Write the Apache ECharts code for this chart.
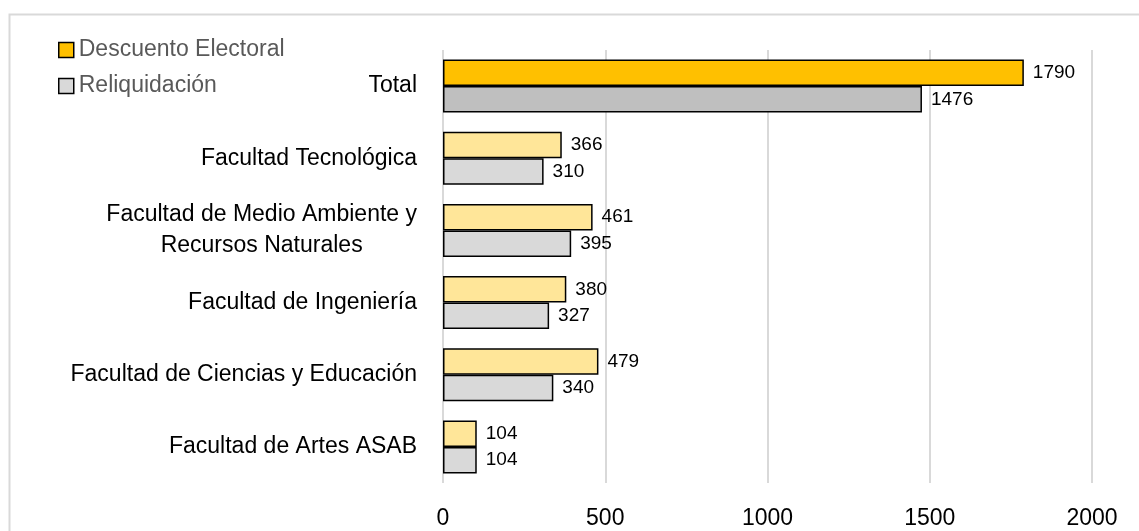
<!DOCTYPE html>
<html>
<head>
<meta charset="utf-8">
<script src="https://cdn.jsdelivr.net/npm/echarts@6/dist/echarts.min.js"></script>
<style>
  html, body { margin: 0; padding: 0; background: #fff; }
  #chart { width: 1139px; height: 531px; }
</style>
</head>
<body>
<div id="chart"></div>
<script>
// Faculties, top to bottom
const categories = [
  'Total',
  'Facultad Tecnológica',
  'Facultad de Medio Ambiente y\nRecursos Naturales',
  'Facultad de Ingeniería',
  'Facultad de Ciencias y Educación',
  'Facultad de Artes ASAB'
];
const seriesNames = ['Descuento Electoral', 'Reliquidación'];
const descuentoElectoral = [1790, 366, 461, 380, 479, 104];
const reliquidacion = [1476, 310, 395, 327, 340, 104];
const xTicks = [0, 500, 1000, 1500, 2000];

const FONT = "'Liberation Sans', Arial, sans-serif";

// The Total row uses the stronger shade of each colour
function buildData(values, totalColor, facultyColor) {
  return values.map((v, i) => ({
    value: v,
    itemStyle: { color: i === 0 ? totalColor : facultyColor }
  }));
}

const chart = echarts.init(document.getElementById('chart'), null, { renderer: 'canvas' });

const barStyle = {
  type: 'bar',
  barWidth: 26.5,
  barGap: '0%',
  label: {
    show: true,
    position: 'right',
    distance: 9,
    fontFamily: FONT,
    fontSize: 19,
    color: '#000'
  },
  itemStyle: { borderColor: '#000', borderWidth: 1.5 },
  emphasis: { disabled: true }
};

chart.setOption({
  animation: false,
  backgroundColor: '#fff',
  graphic: [{
    type: 'rect',
    left: 7, top: 12,
    shape: { x: 0, y: 0, width: 1300, height: 700 },
    style: { fill: 'none', stroke: '#d9d9d9', lineWidth: 2 },
    silent: true,
    z: -10
  }],
  legend: {
    orient: 'vertical',
    left: 58,
    top: 38,
    padding: 0,
    icon: 'rect',
    itemWidth: 15,
    itemHeight: 15,
    itemGap: 12,
    data: seriesNames,
    textStyle: { fontFamily: FONT, fontSize: 23, color: '#595959', lineHeight: 24 },
    itemStyle: { borderColor: '#000', borderWidth: 1.5 }
  },
  grid: { left: 443, right: 47, top: 50, bottom: 48 },
  xAxis: {
    type: 'value',
    min: xTicks[0],
    max: xTicks[xTicks.length - 1],
    interval: xTicks[1] - xTicks[0],
    axisLine: { show: false },
    axisTick: { show: false },
    axisLabel: {
      fontFamily: FONT, fontSize: 23, color: '#000', margin: 24,
      formatter: (v) => String(v)
    },
    splitLine: { show: true, lineStyle: { color: '#d9d9d9', width: 2 } }
  },
  yAxis: {
    type: 'category',
    inverse: true,
    data: categories,
    axisLine: { show: false },
    axisTick: { show: false },
    axisLabel: {
      margin: 26,
      formatter: (v) => v.split('\n').map(s => '{c|' + s + '}').join('\n'),
      rich: {
        c: { fontFamily: FONT, fontSize: 23, color: '#000', align: 'center', lineHeight: 31 }
      }
    }
  },
  series: [
    Object.assign({}, barStyle, {
      name: seriesNames[0],
      color: '#FFC000',
      data: buildData(descuentoElectoral, '#FFC000', '#FFE699')
    }),
    Object.assign({}, barStyle, {
      name: seriesNames[1],
      color: '#D9D9D9',
      data: buildData(reliquidacion, '#BFBFBF', '#D9D9D9')
    })
  ]
});
</script>
</body>
</html>
